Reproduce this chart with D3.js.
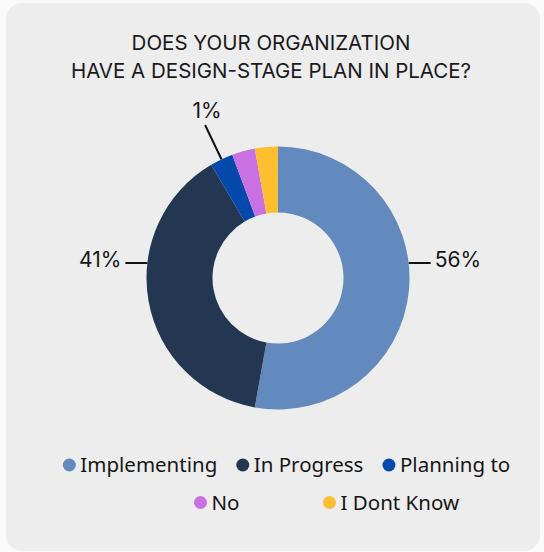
<!DOCTYPE html>
<html>
<head>
<meta charset="utf-8">
<script src="https://cdn.jsdelivr.net/npm/d3@7"></script>
<style>
  html, body { margin: 0; padding: 0; background: #fafafa; }
  svg { display: block; }
</style>
</head>
<body>
<svg id="chart" width="544" height="552"></svg>
<script>
// Survey answers, in percent
const categories = ["Implementing", "In Progress", "Planning to", "No", "I Dont Know"];
const values = [56, 41, 1, 1, 1];
const colors = ["#638abe", "#233753", "#0649ad", "#c970e3", "#fdbf30"];
const titleLines = ["DOES YOUR ORGANIZATION", "HAVE A DESIGN-STAGE PLAN IN PLACE?"];
// Slices that carry a value label
const labelled = ["Implementing", "In Progress", "Planning to"];

const W = 544, H = 552;
const cx = 278, cy = 278, outerR = 131.5, innerR = 65.5;
const minSlice = 3; // smallest drawn share so tiny answers stay visible

const data = categories.map((c, i) => ({ category: c, value: values[i] }));
const svg = d3.select("#chart");

// Card
svg.append("rect")
  .attr("x", 6).attr("y", 3).attr("width", 534).attr("height", 548)
  .attr("rx", 16).attr("fill", "#ededed");

// Title
svg.append("g").selectAll("text").data(titleLines).join("text")
  .attr("x", 271).attr("y", (d, i) => 49.5 + i * 28.3)
  .attr("text-anchor", "middle")
  .attr("font-family", "Inter, 'Noto Sans', sans-serif")
  .attr("font-size", 20.5)
  .attr("fill", "#1a1a1a")
  .text(d => d);

const color = d3.scaleOrdinal().domain(categories).range(colors);

const pie = d3.pie().sort(null).value(d => Math.max(d.value, minSlice));
const arcs = pie(data);
const arc = d3.arc().innerRadius(innerR).outerRadius(outerR);

const g = svg.append("g").attr("transform", `translate(${cx},${cy})`);
g.selectAll("path").data(arcs).join("path")
  .attr("d", arc)
  .attr("fill", d => color(d.data.category));

// Value labels
const labelFont = "Inter, 'Noto Sans', sans-serif";
const sideY = -15; // side labels sit on a horizontal leader just above centre
arcs.filter(d => labelled.includes(d.data.category)).forEach(d => {
  const mid = (d.startAngle + d.endAngle) / 2;
  const share = (d.endAngle - d.startAngle) / (2 * Math.PI);
  const txt = d.data.value + "%";
  if (share > 0.2) {
    const side = Math.sin(mid) >= 0 ? 1 : -1;
    const x0 = side * Math.sqrt(outerR * outerR - sideY * sideY);
    const x1 = x0 + side * 22;
    g.append("line")
      .attr("x1", x0).attr("y1", sideY).attr("x2", x1).attr("y2", sideY)
      .attr("stroke", "#111").attr("stroke-width", 2);
    g.append("text")
      .attr("x", x1 + side * 4).attr("y", sideY + 3.5)
      .attr("text-anchor", side > 0 ? "start" : "end")
      .attr("font-family", labelFont).attr("font-size", 21)
      .attr("fill", "#161616").text(txt);
  } else {
    const a = mid - Math.PI / 2;
    const r1 = outerR, r2 = outerR + 38;
    const p2 = [Math.cos(a) * r2, Math.sin(a) * r2];
    g.append("line")
      .attr("x1", Math.cos(a) * r1).attr("y1", Math.sin(a) * r1)
      .attr("x2", p2[0]).attr("y2", p2[1])
      .attr("stroke", "#111").attr("stroke-width", 2);
    g.append("text")
      .attr("x", p2[0] + 2).attr("y", p2[1] - 6.5)
      .attr("text-anchor", "middle")
      .attr("font-family", labelFont).attr("font-size", 21)
      .attr("fill", "#161616").text(txt);
  }
});

// Legend: two centred rows of dot + name
const legendRows = [[0, 1, 2], [3, 4]];
const rowY = [465, 502.5];
const rowCenter = [286.5, 326.5];
const dotR = 6.5, dotGap = 4.5, itemGap = 19, minItemW = 110;
const legend = svg.append("g");
legendRows.forEach((row, ri) => {
  const items = row.map(i => {
    const it = legend.append("g");
    it.append("circle").attr("r", dotR).attr("cx", dotR).attr("cy", 0)
      .attr("fill", colors[i]);
    const t = it.append("text")
      .attr("x", dotR * 2 + dotGap).attr("y", 7)
      .attr("font-family", "'Noto Sans', Roboto, sans-serif")
      .attr("font-size", 20.5)
      .attr("fill", "#161616")
      .text(categories[i]);
    const w = Math.max(minItemW, dotR * 2 + dotGap + t.node().getComputedTextLength());
    return { it, w };
  });
  const total = d3.sum(items, d => d.w) + itemGap * (items.length - 1);
  let x = rowCenter[ri] - total / 2;
  items.forEach(d => {
    d.it.attr("transform", `translate(${x},${rowY[ri]})`);
    x += d.w + itemGap;
  });
});
</script>
</body>
</html>
